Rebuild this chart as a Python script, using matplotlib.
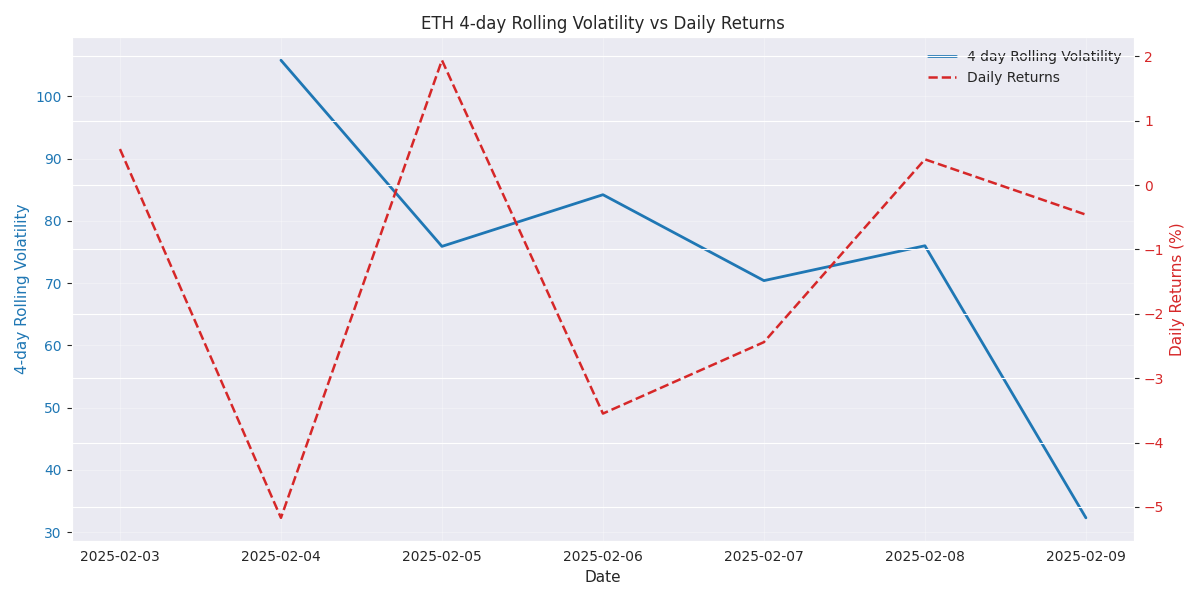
import matplotlib
matplotlib.use("Agg")
import matplotlib.pyplot as plt
import matplotlib.dates as mdates
import numpy as np
import pandas as pd
import seaborn as sns

dates = pd.to_datetime(["2025-02-03", "2025-02-04", "2025-02-05", "2025-02-06",
                        "2025-02-07", "2025-02-08", "2025-02-09"])
volatility = [np.nan, 105.8, 75.9, 84.2, 70.4, 76.0, 32.3]
daily_returns = [0.56, -5.17, 1.94, -3.55, -2.44, 0.40, -0.46]

sns.set_style("darkgrid")

fig, ax1 = plt.subplots(figsize=(12, 6), dpi=100)

l1 = ax1.plot(dates, volatility, color="tab:blue", linewidth=2, label="4 day Rolling Volatility")
ax1.set_xlabel("Date", fontsize=11)
ax1.set_ylabel("4-day Rolling Volatility", color="tab:blue", fontsize=11)
ax1.tick_params(axis="y", labelcolor="tab:blue")
ax1.grid(True, alpha=0.3)

ax2 = ax1.twinx()
l2 = ax2.plot(dates, daily_returns, color="tab:red", linestyle="--", linewidth=1.8, label="Daily Returns")
ax2.set_ylabel("Daily Returns (%)", color="tab:red", fontsize=11)
ax2.tick_params(axis="y", labelcolor="tab:red")

lines = l1 + l2
ax1.legend(lines, [l.get_label() for l in lines], loc="upper right", frameon=False)

ax1.xaxis.set_major_formatter(mdates.DateFormatter("%Y-%m-%d"))
plt.title("ETH 4-day Rolling Volatility vs Daily Returns")
plt.tight_layout()
plt.savefig("out.png")
